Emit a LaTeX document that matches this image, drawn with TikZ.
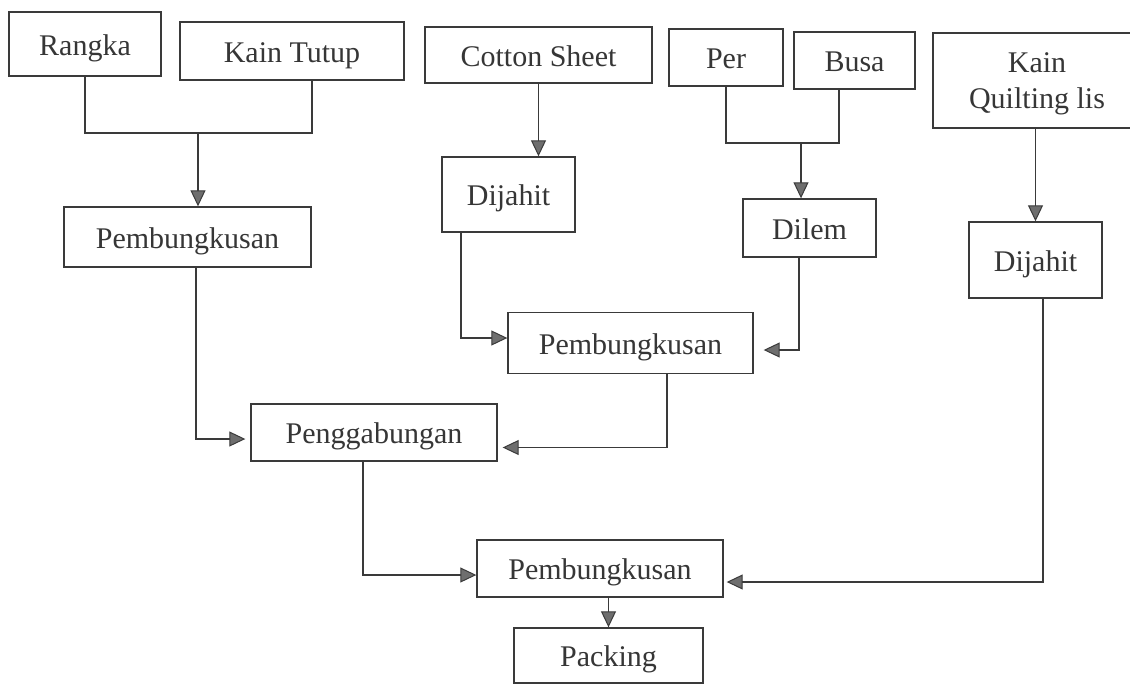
\documentclass[tikz,border=0pt]{standalone}
\usepackage{fontspec}
\setmainfont{Liberation Serif}
\usetikzlibrary{arrows.meta}
\definecolor{linec}{HTML}{3A3A3A}
\definecolor{textc}{HTML}{363636}
\definecolor{headc}{HTML}{6E6E6E}
\begin{document}
\begin{tikzpicture}[x=1pt,y=-1pt,
  box/.style={draw=linec, line width=1.4pt, rectangle, inner sep=0pt,
    font=\fontsize{30}{36}\selectfont, text=textc, align=center},
  one/.style={box, text height=26pt, text depth=4pt},
  flow/.style={draw=linec, line width=1.5pt},
  arr/.style={flow, -{Triangle[length=16pt,width=15pt,fill=headc,color=linec,line width=1pt]}}]
\useasboundingbox[fill=white] (0,0) rectangle (1130,683);

% nodes
\node[one, minimum width=152pt, minimum height=64pt] (rangka) at (85,44) {Rangka};
\node[one, minimum width=224pt, minimum height=58pt] (kaintutup) at (292,51) {Kain Tutup};
\node[one, minimum width=227pt, minimum height=56pt] (cotton) at (538.5,55) {Cotton Sheet};
\node[one, minimum width=114pt, minimum height=57pt] (per) at (726,57.5) {Per};
\node[one, minimum width=121pt, minimum height=57pt] (busa) at (854.5,60.5) {Busa};
\node[box, text depth=0pt, minimum width=208pt, minimum height=95pt] (quilting) at (1037,80.5) {Kain\\Quilting lis};
\node[one, minimum width=247pt, minimum height=60pt] (pemb1) at (187.5,237) {Pembungkusan};
\node[one, minimum width=133pt, minimum height=75pt] (dijahit1) at (508.5,194.5) {Dijahit};
\node[one, minimum width=133pt, minimum height=58pt] (dilem) at (809.5,228) {Dilem};
\node[one, minimum width=133pt, minimum height=76pt] (dijahit2) at (1035.5,260) {Dijahit};
\node[one, minimum width=245pt, minimum height=61pt] (pemb2) at (630.5,343) {Pembungkusan};
\node[one, minimum width=246pt, minimum height=57pt] (gabung) at (374,432.5) {Penggabungan};
\node[one, minimum width=246pt, minimum height=57pt] (pemb3) at (600,568.5) {Pembungkusan};
\node[one, minimum width=189pt, minimum height=55pt] (packing) at (608.5,655.5) {Packing};

% connectors
\coordinate (j1) at (198,133);
\draw[flow] (rangka.south) |- (j1);
\draw[flow] ([xshift=20pt]kaintutup.south) |- (j1);
\draw[arr] (j1) -- (j1 |- pemb1.north);

\draw[arr] (cotton.south) -- (cotton.south |- dijahit1.north);

\coordinate (j2) at (801,143);
\draw[flow] (per.south) |- (j2);
\draw[flow] ([xshift=-15.5pt]busa.south) |- (j2);
\draw[arr] (j2) -- (j2 |- dilem.north);

\draw[arr] (quilting.south -| dijahit2.north) -- (dijahit2.north);

\draw[arr] ([xshift=-47.5pt]dijahit1.south) |- ([yshift=5pt]pemb2.west);
\draw[arr] ([xshift=-10.5pt]dilem.south) |- ([xshift=10pt,yshift=-7pt]pemb2.east);
\draw[arr] ([xshift=8.5pt]pemb1.south) |- ([xshift=-5pt,yshift=-6.5pt]gabung.west);
\draw[arr] ([xshift=36.5pt]pemb2.south) |- ([xshift=5pt,yshift=-15pt]gabung.east);
\draw[arr] ([xshift=-11pt]gabung.south) |- ([yshift=-6.5pt]pemb3.west);
\draw[arr] ([xshift=7.5pt]dijahit2.south) |- ([xshift=3pt,yshift=-13.5pt]pemb3.east);
\draw[arr] (pemb3.south -| packing.north) -- (packing.north);
\end{tikzpicture}
\end{document}
